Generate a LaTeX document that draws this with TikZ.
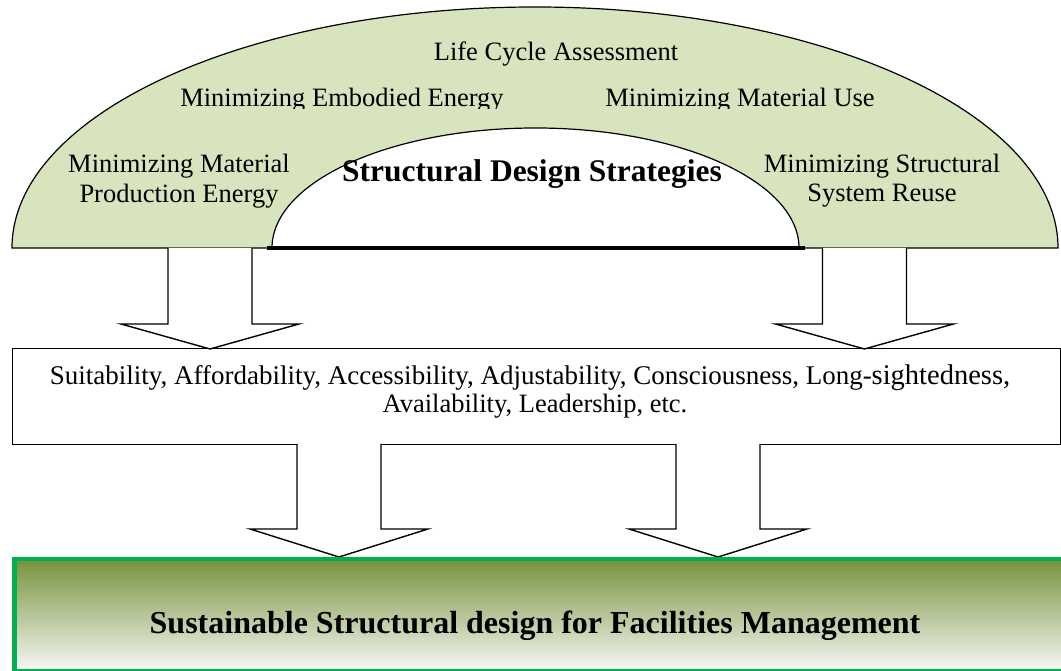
\documentclass[tikz,border=0pt]{standalone}
\usepackage{fontspec}
\setmainfont{Liberation Serif}
\definecolor{band}{HTML}{D7E4BD}
\definecolor{frame}{HTML}{00B050}
\definecolor{olivetop}{HTML}{77933C}
\definecolor{olivemid}{HTML}{C6CFB6}
\definecolor{fadebottom}{HTML}{F8F8F6}
% hollow down-pointing block arrow: centre x, shaft top, shoulder, tip
\newcommand\hollowarrow[4]{%
  \draw[blockarrow] (#1-42,#2) -- (#1-42,#3) -- (#1-89,#3) -- (#1,#4)
    -- (#1+89,#3) -- (#1+42,#3) -- (#1+42,#2);}
\begin{document}
\begin{tikzpicture}[x=1pt,y=1pt,
  lbl/.style={font=\fontsize{26.5}{30}\selectfont, inner sep=0pt, anchor=base},
  ttl/.style={font=\bfseries\fontsize{31.5}{34}\selectfont, inner sep=0pt, anchor=base},
  outline/.style={draw=black, line width=1.2pt},
  blockarrow/.style={draw=black, fill=white, line width=1.4pt, line join=miter}]
\useasboundingbox (0,0) rectangle (1061,671);

% strategy band: outer half-ellipse minus inner half-ellipse
\fill[band, even odd rule]
  (12,423) arc (180:0:523 and 241) -- cycle
  (272,423) arc (180:0:263.5 and 120) -- cycle;
\draw[outline] (12,423) arc (180:0:523 and 241) -- cycle;
\draw[outline] (272,423) arc (180:0:263.5 and 120);
\draw[line width=4.2pt] (267,423) -- (805,423);

% band labels
\node[lbl] (lca) at (556,610) {Life Cycle Assessment};
\begin{scope}
  \clip (0,562) rectangle (1061,671);
  \node[lbl] (embodied) at (342,564) {Minimizing Embodied Energy};
  \node[lbl] (matuse) at (740,564) {Minimizing Material Use};
\end{scope}
\node[lbl] (prod1) at (179,498) {Minimizing Material};
\node[lbl] (prod2) at (179,468) {Production Energy};
\node[lbl] (reuse1) at (882,498) {Minimizing Structural};
\node[lbl] (reuse2) at (882,469) {System Reuse};
\node[ttl] (sds) at (532,489) {Structural Design Strategies};

% criteria box
\node[draw=black, line width=1.4pt, fill=white, inner sep=0pt,
      minimum width=1048pt, minimum height=96pt, anchor=north west]
      (crit) at (12,323) {};
\node[lbl, font=\fontsize{27}{30}\selectfont] (crit1) at (530,286)
  {Suitability, Affordability, Accessibility, Adjustability, Consciousness, Long-{\fontsize{28.5}{30}\selectfont sightedness,}};
\node[lbl] (crit2) at (535,258) {Availability, Leadership, etc.};

% arrows from the band down to the criteria box
\hollowarrow{210}{423}{347}{322}
\hollowarrow{864.5}{423}{347}{322}

% arrows from the criteria box down to the goal box
\hollowarrow{339}{227}{142}{114}
\hollowarrow{718}{227}{142}{114}

% goal box
\node[draw=frame, line width=4.5pt, inner sep=0pt,
      top color=olivetop, middle color=olivemid, bottom color=fadebottom,
      minimum width=1054pt, minimum height=112pt, anchor=north west]
      (goal) at (12,114) {};
\node[ttl, font=\bfseries\fontsize{32}{34}\selectfont] (goaltext) at (535,37)
  {Sustainable Structural design for Facilities Management};
\end{tikzpicture}
\end{document}
